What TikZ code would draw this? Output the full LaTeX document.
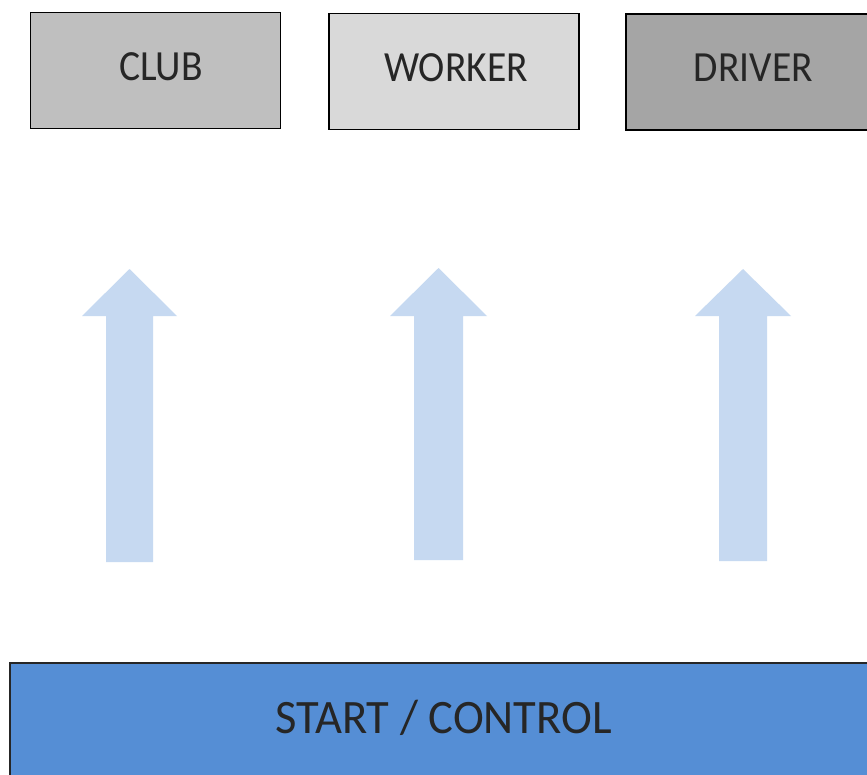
\documentclass[tikz,border=0pt]{standalone}
\usepackage{fontspec}
\setmainfont{Carlito}
\newfontfamily\topfont[FakeStretch=0.92]{Carlito}
\newfontfamily\basefont[FakeStretch=0.97]{Carlito}
\definecolor{clubfill}{HTML}{BFBFBF}
\definecolor{workerfill}{HTML}{D9D9D9}
\definecolor{driverfill}{HTML}{A5A5A5}
\definecolor{startfill}{HTML}{558ED5}
\definecolor{arrowfill}{HTML}{C6D9F1}
\tikzset{
  topbox/.style={draw=black, line width=1.3pt, minimum width=250pt, minimum height=116pt, inner sep=0pt},
  basebox/.style={draw=black!85, line width=1.3pt, fill=startfill, minimum width=868pt, minimum height=120pt, inner sep=0pt},
  toplbl/.style={inner sep=0pt, font=\topfont\fontsize{43}{46}\selectfont, text=black!85},
  baselbl/.style={inner sep=0pt, font=\basefont\fontsize{48}{52}\selectfont, text=black!85},
  bigarrow/.style={fill=arrowfill, draw=none}
}
\begin{document}
\begin{tikzpicture}[x=1pt,y=-1pt]
\useasboundingbox (0,0) rectangle (867,774);
\clip (0,0) rectangle (867,774);
\fill[white] (0,0) rectangle (867,774);
\node[topbox, fill=clubfill] (club) at (155.5,70.5) {};
\node[topbox, fill=workerfill] (worker) at (454,71.5) {};
\node[topbox, fill=driverfill] (driver) at (751,72) {};
\node[basebox] (start) at (444,723) {};
\node[toplbl] (clubtext) at ([shift={(5.5,-3.5)}]club.center) {CLUB};
\node[toplbl] (workertext) at ([shift={(2,-4)}]worker.center) {WORKER};
\node[toplbl] (drivertext) at ([shift={(2.5,-4.5)}]driver.center) {DRIVER};
\node[baselbl] (starttext) at ([shift={(-0.5,-5.5)}]start.center) {START / CONTROL};
% arrows
\fill[bigarrow] (129.5,269) -- (177,316) -- (153,316) -- (153,562) -- (106,562) -- (106,316) -- (82,316) -- cycle;
\fill[bigarrow] (438.5,268) -- (487,316) -- (463,316) -- (463,560) -- (414,560) -- (414,316) -- (390,316) -- cycle;
\fill[bigarrow] (743,269) -- (791,316) -- (767,316) -- (767,561) -- (719,561) -- (719,316) -- (695,316) -- cycle;
\end{tikzpicture}
\end{document}
